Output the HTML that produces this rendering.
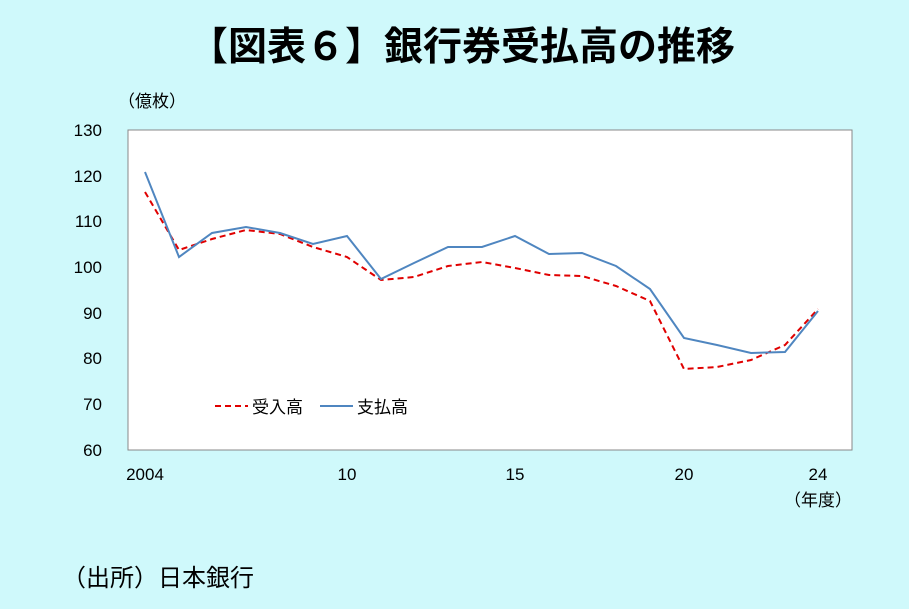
<!DOCTYPE html>
<html><head><meta charset="utf-8"><style>
body{margin:0;width:909px;height:609px;background:#cff9fb;overflow:hidden;font-family:"Liberation Sans","Noto Sans CJK JP",sans-serif;}
</style></head><body>
<svg width="909" height="609" xmlns="http://www.w3.org/2000/svg" style="position:absolute;left:0;top:0">
<rect width="909" height="609" fill="#cff9fb"/>
<text x="462" y="60" text-anchor="middle" font-size="39" font-weight="bold" font-family="Noto Sans CJK JP,sans-serif" fill="#000">【図表６】銀行券受払高の推移</text>
<text x="118" y="107" font-size="17" font-family="Noto Sans CJK JP,sans-serif">（億枚）</text>
<rect x="128" y="130" width="724" height="320" fill="#fff" stroke="#888" stroke-width="1"/>
<g font-size="17" text-anchor="end" font-family="Liberation Sans,sans-serif">
<text x="102" y="136">130</text><text x="102" y="182">120</text><text x="102" y="227">110</text>
<text x="102" y="273">100</text><text x="102" y="319">90</text><text x="102" y="364">80</text>
<text x="102" y="410">70</text><text x="102" y="456">60</text>
</g>
<g font-size="17" text-anchor="middle">
<text x="145" y="480">2004</text><text x="347" y="480">10</text><text x="515" y="480">15</text>
<text x="684" y="480">20</text><text x="818" y="480">24</text>
</g>
<text x="818" y="506" font-size="17" text-anchor="middle" font-family="Noto Sans CJK JP,sans-serif">（年度）</text>
<polyline fill="none" stroke="#e00000" stroke-width="2" stroke-dasharray="6,4" points="145,192 179,250 212,239 246,230 280,234 313,247 347,257 381,280 414,277 448,266 482,262 515,268 549,275 582,276 616,286 650,301 684,369 717,367 751,360 785,345 818,309"/>
<polyline fill="none" stroke="#4f86c0" stroke-width="2" points="145,172 179,257 212,233 246,227 280,233 313,244 347,236 381,279 414,263 448,247 482,247 515,236 549,254 582,253 616,266 650,289 684,338 717,345 751,353 785,352 818,311"/>
<line x1="215" y1="406" x2="248" y2="406" stroke="#e00000" stroke-width="2" stroke-dasharray="6,4"/>
<text x="252" y="413" font-size="17" font-family="Noto Sans CJK JP,sans-serif">受入高</text>
<line x1="320" y1="406" x2="353" y2="406" stroke="#4f86c0" stroke-width="2"/>
<text x="357" y="413" font-size="17" font-family="Noto Sans CJK JP,sans-serif">支払高</text>
<text x="62" y="586" font-size="24" font-family="Noto Sans CJK JP,sans-serif">（出所）日本銀行</text>
</svg>
</body></html>
